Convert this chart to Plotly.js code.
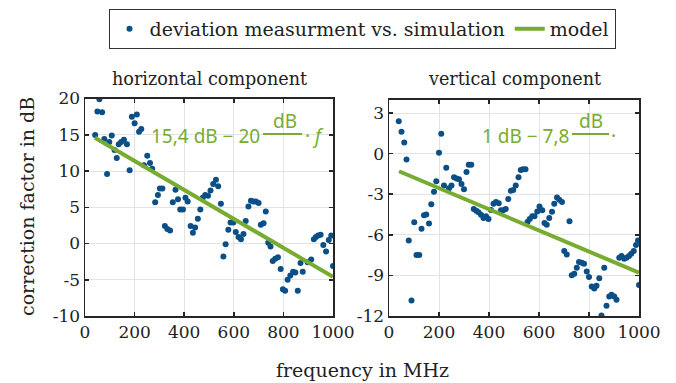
<!DOCTYPE html>
<html><head><meta charset="utf-8">
<script src="https://cdn.plot.ly/plotly-3.0.1.min.js"></script>
<style>html,body{margin:0;padding:0;background:#fff}</style>
</head><body><div id="chart" style="width:676px;height:383px"></div>
<script>
const freqH = [41,50,58,69,78,89,98,108,119,128,136,146,157,169,180,189,200,209,218,227,238,251,262,271,283,294,302,312,322,332,343,354,365,375,384,395,405,414,426,435,444,455,465,475,485,496,506,517,528,537,548,558,567,578,587,598,608,619,629,639,648,659,669,679,689,700,709,720,729,739,748,757,767,778,789,798,807,817,828,839,848,858,869,878,898,912,923,931,940,950,961,972,983,993,1000];
const corrH = [14.95,18.2,19.9,18.1,14.4,9.6,14.0,14.9,12.9,11.8,13.7,14.0,14.3,13.7,10.1,17.5,16.6,17.8,15.4,15.8,10.8,12.1,11.1,10.3,5.7,6.7,7.6,7.6,2.4,2.0,1.8,5.7,7.4,6.1,4.7,4.7,6.3,5.8,2.4,1.5,2.2,3.4,4.7,6.3,6.7,6.6,7.3,8.2,8.8,7.9,5.5,-1.8,-0.1,1.9,2.9,2.9,1.6,0.9,0.6,1.3,3.1,5.1,5.9,5.8,5.8,5.6,2.6,2.8,4.4,0.1,-0.4,-2.4,-2.1,-1.9,-3.5,-6.3,-6.5,-5.0,-4.4,-3.9,-4.0,-6.5,-2.7,-3.9,-2.6,-2.2,0.6,0.9,1.1,1.2,-0.2,-1.1,0.5,1.1,-3.1];
const freqV = [39,50,61,70,79,90,101,110,121,130,140,149,160,169,180,189,200,209,220,229,240,250,260,270,280,290,300,310,319,329,339,349,358,368,378,388,398,408,418,428,439,448,457,467,477,487,497,507,518,527,536,546,554,563,573,582,593,602,613,622,631,641,652,661,672,681,692,701,711,722,731,741,751,760,771,780,791,800,811,821,830,841,850,861,870,881,890,901,910,921,930,941,950,960,969,979,988,996,1000];
const corrV = [2.39,1.61,0.82,-0.43,-6.42,-10.85,-5.07,-7.5,-7.5,-5.56,-4.56,-4.49,-5.17,-3.75,-2.82,-2.04,0.06,1.46,-2.36,-1.04,-2.55,-2.36,-1.75,-1.84,-1.89,-2.24,-2.63,-1.36,-0.82,-0.82,-4.1,-4.22,-4.34,-4.51,-4.76,-4.63,-4.83,-4.17,-3.7,-3.58,-3.66,-4.19,-4.19,-4.1,-3.36,-2.75,-2.68,-2.36,-1.75,-1.21,-1.16,-1.16,-5.05,-4.83,-4.63,-4.63,-4.27,-3.9,-4.19,-5.12,-5.25,-4.76,-4.29,-3.7,-3.24,-3.41,-3.58,-7.2,-7.45,-5.0,-8.99,-8.87,-8.43,-8.01,-8.06,-8.13,-8.72,-9.11,-9.82,-9.97,-9.77,-9.21,-11.97,-8.43,-11.24,-10.55,-10.43,-10.55,-10.8,-7.69,-7.57,-7.77,-7.69,-7.57,-7.4,-7.2,-6.76,-6.42,-9.7];
const modelF = [40, 1000];
const modelH = [14.6, -4.6];
const modelV = [-1.3, -8.8];
const xTicks = [0,200,400,600,800,1000];
const yTicksH = [-10,-5,0,5,10,15,20];
const yTicksV = [-12,-9,-6,-3,0,3];
const seriesNames = ['deviation measurment vs. simulation','model'];

const BLUE = '#0b4f86', GREEN = '#77ac30', AX = '#262626';
const SERIF = 'DejaVu Serif', FS = 17;
const traces = [
  {x:freqH, y:corrH, type:'scatter', mode:'markers', name:seriesNames[0], marker:{color:BLUE,size:6}, xaxis:'x', yaxis:'y', legendrank:1},
  {x:modelF, y:modelH, type:'scatter', mode:'lines', name:seriesNames[1], line:{color:GREEN,width:4}, xaxis:'x', yaxis:'y', legendrank:2},
  {x:freqV, y:corrV, type:'scatter', mode:'markers', showlegend:false, marker:{color:BLUE,size:6}, xaxis:'x2', yaxis:'y2'},
  {x:modelF, y:modelV, type:'scatter', mode:'lines', showlegend:false, line:{color:GREEN,width:4}, xaxis:'x2', yaxis:'y2'}
];
function ax(extra){
  return Object.assign({showline:true, mirror:'allticks', linecolor:AX, linewidth:1.5,
    ticks:'inside', ticklen:4, tickcolor:AX, tickwidth:1.5, showgrid:true, gridcolor:'#e3e3e3', gridwidth:1,
    zeroline:false, tickfont:{family:SERIF,size:FS,color:'#222'}}, extra);
}
const yTop = 1-98.5/383, yBot = 1-316/383;
const SANS = 'Noto Sans';
const TF = {family:SERIF,size:17.6,color:'#222'};
const AF = {family:SERIF,size:19,color:'#222'};
const layout = {
  width:676, height:383, margin:{l:0,r:0,t:0,b:0}, paper_bgcolor:'#fff', plot_bgcolor:'#fff',
  xaxis: ax({domain:[85/676,333/676], range:[0,1000], tickvals:xTicks, ticktext:xTicks.map(String), anchor:'y'}),
  yaxis: ax({domain:[yBot,yTop], range:[-10,20], tickvals:yTicksH, ticktext:yTicksH.map(String), anchor:'x'}),
  xaxis2: ax({domain:[389/676,639/676], range:[0,1000], tickvals:xTicks, ticktext:xTicks.map(String), anchor:'y2'}),
  yaxis2: ax({domain:[yBot,1-99.5/383], range:[-12,4], tickvals:yTicksV, ticktext:yTicksV.map(String), anchor:'x2'}),
  showlegend:true,
  legend:{orientation:'h', x:362/676, xanchor:'center', y:1-9/383, yanchor:'top',
    bordercolor:'#333', borderwidth:1, font:{family:SERIF,size:19,color:'#222'}, bgcolor:'#fff'},
  annotations:[
    {text:'horizontal component', xref:'paper', yref:'paper', x:209/676, y:1-79/383, showarrow:false, xanchor:'center', yanchor:'middle', font:TF},
    {text:'vertical component', xref:'paper', yref:'paper', x:514/676, y:1-79/383, showarrow:false, xanchor:'center', yanchor:'middle', font:TF},
    {text:'correction factor in dB', xref:'paper', yref:'paper', x:27/676, y:1-207/383, textangle:-90, showarrow:false, xanchor:'center', yanchor:'middle', font:AF},
    {text:'frequency in MHz', xref:'paper', yref:'paper', x:362/676, y:1-370/383, showarrow:false, xanchor:'center', yanchor:'middle', font:AF},
    {text:'15,4 dB − 20', xref:'paper', yref:'paper', x:262/676, y:1-136/383, showarrow:false, xanchor:'right', yanchor:'middle', font:{family:SANS,size:19,color:GREEN}},
    {text:'dB', xref:'paper', yref:'paper', x:285/676, y:1-121/383, showarrow:false, xanchor:'center', yanchor:'middle', font:{family:SANS,size:19,color:GREEN}},
    {text:'· <i>f</i>', xref:'paper', yref:'paper', x:303/676, y:1-136/383, showarrow:false, xanchor:'left', yanchor:'middle', font:{family:SANS,size:19,color:GREEN}},
    {text:'1 dB − 7,8', xref:'paper', yref:'paper', x:571/676, y:1-136/383, showarrow:false, xanchor:'right', yanchor:'middle', font:{family:SANS,size:19,color:GREEN}},
    {text:'dB', xref:'paper', yref:'paper', x:591/676, y:1-121/383, showarrow:false, xanchor:'center', yanchor:'middle', font:{family:SANS,size:19,color:GREEN}},
    {text:'·', xref:'paper', yref:'paper', x:609/676, y:1-136/383, showarrow:false, xanchor:'left', yanchor:'middle', font:{family:SANS,size:19,color:GREEN}}
  ],
  shapes:[
    {type:'line', xref:'paper', yref:'paper', x0:263/676, x1:302/676, y0:1-134/383, y1:1-134/383, line:{color:GREEN,width:2}},
    {type:'line', xref:'paper', yref:'paper', x0:572/676, x1:609/676, y0:1-134/383, y1:1-134/383, line:{color:GREEN,width:2}}
  ]
};
Plotly.newPlot('chart', traces, layout, {staticPlot:true, displayModeBar:false});
</script></body></html>
